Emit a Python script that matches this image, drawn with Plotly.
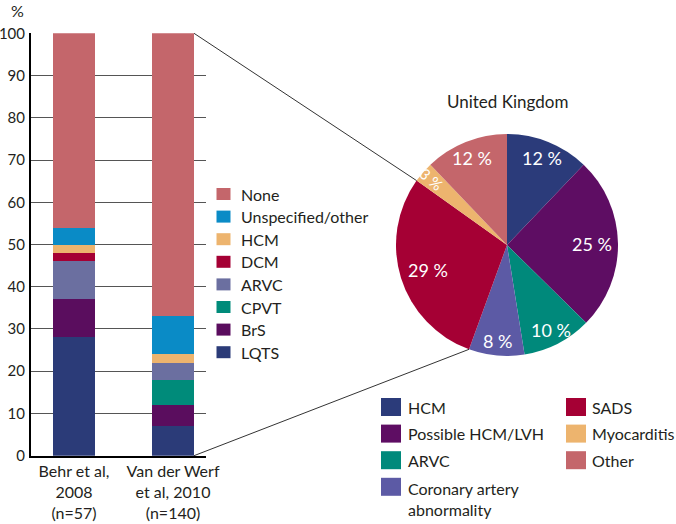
import math
import plotly.graph_objects as go

W, H = 676, 524

# ---------------- data ----------------
studies = ["Behr et al,<br>2008<br>(n=57)", "Van der Werf<br>et al, 2010<br>(n=140)"]
bar_names = ["LQTS", "BrS", "CPVT", "ARVC", "DCM", "HCM", "Unspecified/other", "None"]
LQTS = [28, 7]
BrS = [9, 5]
CPVT = [0, 6]
ARVC = [9, 4]
DCM = [2, 0]
HCM = [2, 2]
Unspecified = [4, 9]
NoneVals = [46, 67]
bar_values = [LQTS, BrS, CPVT, ARVC, DCM, HCM, Unspecified, NoneVals]
bar_colors = ["#2B3B78", "#5A0D5E", "#008B7A", "#6B6FA0", "#A50034", "#EDB46E", "#0A8BC6", "#C4666B"]
y_ticks = list(range(0, 101, 10))

pie_title = "United Kingdom"
pie_labels = ["HCM", "Possible HCM/LVH", "ARVC", "Coronary artery<br>abnormality", "SADS", "Myocarditis", "Other"]
pie_values = [12, 25, 10, 8, 29, 3, 12]
pie_colors = ["#2B3B7A", "#5E0D63", "#00897B", "#5C5AA5", "#A50034", "#EDB46E", "#C4666B"]

FONT = "Lato"
TXT = "#231F20"

# ---------------- layout geometry (pixels) ----------------
bx0, bx1 = 31, 206
by_top, by_bot = 33.3, 455.7
x_range = [-0.434, 1.333]
bar_w = 0.424

pcx, pcy, pr = 507, 245, 111


def px(x):
    return x / W


def py(y):
    return 1 - y / H


fig = go.Figure()
for name, vals, col in zip(bar_names, bar_values, bar_colors):
    fig.add_trace(go.Bar(x=[0, 1], y=vals, name=name, marker=dict(color=col, line=dict(width=0)),
                         width=bar_w, showlegend=False, hoverinfo="name+y"))

fig.add_trace(go.Pie(values=pie_values, labels=pie_labels, sort=False, direction="clockwise",
                     marker=dict(colors=pie_colors, line=dict(width=0)),
                     textinfo="none", hoverinfo="label+value",
                     domain=dict(x=[px(pcx - pr), px(pcx + pr)], y=[py(pcy + pr), py(pcy - pr)]),
                     showlegend=False))

fig.update_layout(
    width=W, height=H, margin=dict(l=0, r=0, t=0, b=0, pad=0, autoexpand=False),
    paper_bgcolor="white", plot_bgcolor="white", barmode="stack", showlegend=False,
    font=dict(family=FONT, color=TXT, size=16),
    xaxis=dict(domain=[px(bx0), px(bx1)], range=x_range, tickvals=[0, 1], ticktext=studies,
               showline=True, linecolor="black", linewidth=2, showgrid=False, zeroline=False,
               ticks="", tickfont=dict(size=16), automargin=False),
    yaxis=dict(domain=[py(by_bot), py(by_top)], range=[0, 100], tickvals=y_ticks,
               showline=True, linecolor="black", linewidth=2, gridcolor="#555", gridwidth=1,
               zeroline=False, ticks="", tickfont=dict(size=15), ticklabelstandoff=1, automargin=False),
)

ann = []
shapes = []
ann.append(dict(text="%", x=px(17), y=py(11), xref="paper", yref="paper", showarrow=False,
                font=dict(size=16), xanchor="center", yanchor="middle"))
ann.append(dict(text=pie_title, x=px(pcx), y=py(102), xref="paper", yref="paper", showarrow=False,
                font=dict(size=17), xanchor="center", yanchor="middle"))

# bar legend (top item = last series)
leg_y0, leg_dy = 194, 22.6
for i, (name, col) in enumerate(zip(bar_names[::-1], bar_colors[::-1])):
    yc = leg_y0 + i * leg_dy
    shapes.append(dict(type="rect", xref="paper", yref="paper", x0=px(216.5), x1=px(230.5),
                       y0=py(yc - 6), y1=py(yc + 6), fillcolor=col, line=dict(width=0)))
    ann.append(dict(text=name, x=px(239), y=py(yc), xref="paper", yref="paper", showarrow=False,
                    xanchor="left", yanchor="middle", font=dict(size=16)))

# pie legend: 2 columns
cols = [(381, 406), (566, 590)]
per_col = 4
for i, (lab, col) in enumerate(zip(pie_labels, pie_colors)):
    c, r = divmod(i, per_col)
    sx, tx = cols[c]
    yc = 407 + r * 26.6
    shapes.append(dict(type="rect", xref="paper", yref="paper", x0=px(sx), x1=px(sx + 20),
                       y0=py(yc - 9), y1=py(yc + 9), fillcolor=col, line=dict(width=0)))
    multi = "<br>" in lab
    ann.append(dict(text=lab, x=px(tx), y=py(yc - 10 if multi else yc), xref="paper", yref="paper",
                    showarrow=False, xanchor="left", yanchor="top" if multi else "middle",
                    align="left", font=dict(size=16)))

# pie percentage labels, placed along each slice's mid-angle
total = sum(pie_values)
cum = 0
for v in pie_values:
    mid = 2 * math.pi * (cum + v / 2) / total
    cum += v
    rf = 0.92 - 0.006 * v
    lx = pcx + pr * rf * math.sin(mid)
    ly = pcy - pr * rf * math.cos(mid)
    narrow = v / total < 0.05
    ang = 0
    if narrow:
        ang = math.degrees(math.atan2(-math.cos(mid), math.sin(mid))) + 180
        ang = ((ang + 90) % 180) - 90
    ann.append(dict(text=f"{v} %", x=px(lx), y=py(ly), xref="paper", yref="paper", showarrow=False,
                    xanchor="center", yanchor="middle", textangle=ang,
                    font=dict(size=18 if not narrow else 15, color="white")))


def xdata_to_px(x):
    return bx0 + (x - x_range[0]) / (x_range[1] - x_range[0]) * (bx1 - bx0)


def ydata_to_px(y):
    return by_bot - y / 100 * (by_bot - by_top)


sads = pie_labels.index("SADS")
cum_start = sum(pie_values[:sads])
cum_end = cum_start + pie_values[sads]


def pie_pt(c):
    a = 2 * math.pi * c / total
    return pcx + pr * math.sin(a), pcy - pr * math.cos(a)


bar_right = xdata_to_px(1 + bar_w / 2)
stack_top = sum(v[1] for v in bar_values)
for yv, c in [(stack_top, cum_end), (0, cum_start)]:
    ex, ey = pie_pt(c)
    shapes.append(dict(type="line", xref="paper", yref="paper", x0=px(bar_right), y0=py(ydata_to_px(yv)),
                       x1=px(ex), y1=py(ey), line=dict(color="#333", width=1)))

fig.update_layout(annotations=ann, shapes=shapes)
fig.write_html("out.html", post_script="document.body.style.margin='0';",
               config={"displayModeBar": False})
